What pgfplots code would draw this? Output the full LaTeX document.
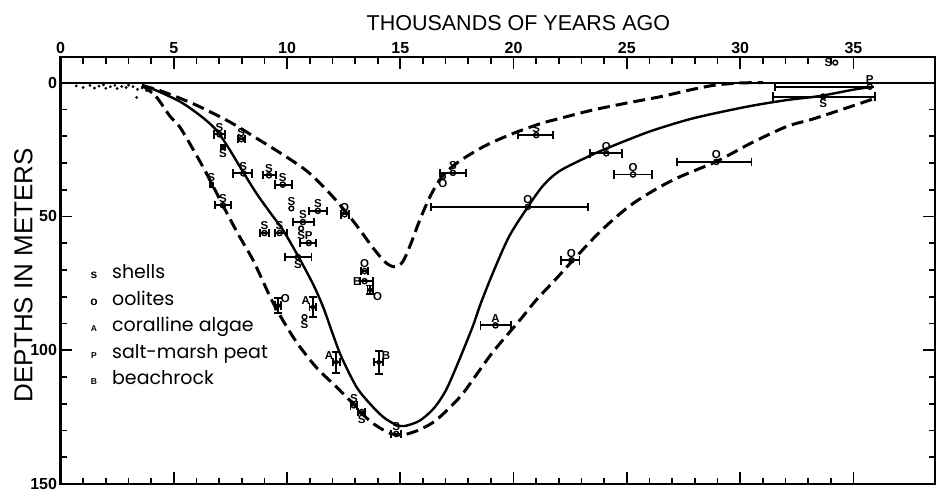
\documentclass[border=0pt]{standalone}
\usepackage{pgfplots}
\pgfplotsset{compat=1.18}
\usepackage{pgfplotstable}
\usepackage{fontspec}
\setmainfont{Liberation Sans}
\newfontfamily\legfont{Poppins}

% points with horizontal error bars only
\pgfplotstableread{
x y exm exp
7.02 19.3 0.25 0.25
7.98 21.1 0.15 0.15
8.07 33.9 0.45 0.38
9.20 34.6 0.28 0.30
9.81 38.1 0.36 0.40
7.17 45.8 0.37 0.37
11.36 47.9 0.40 0.40
12.54 49.2 0.15 0.18
10.70 52.1 0.44 0.50
9.00 56.2 0.21 0.20
9.67 56.2 0.20 0.32
10.96 59.9 0.40 0.33
10.48 65.2 0.58 0.60
13.42 70.4 0.14 0.14
13.42 74.2 0.22 0.37
12.95 120.6 0.15 0.15
13.30 123.1 0.15 0.15
14.82 131.3 0.22 0.22
17.32 33.7 0.58 0.56
21.00 19.6 0.80 0.75
20.63 46.4 4.26 2.65
24.09 26.4 0.72 0.70
25.27 34.3 0.85 0.85
28.95 29.6 1.74 1.55
22.55 66.4 0.45 0.36
19.20 90.7 0.66 0.70
35.72 1.5 4.20 0.00
33.66 5.2 2.20 2.28
}\xbars

% points with horizontal and vertical error bars
\pgfplotstableread{
x y exm exp ey
13.67 77.4 0.12 0.12 1.6
9.60 83.3 0.15 0.15 2.8
11.14 83.9 0.15 0.15 3.7
12.17 104.5 0.15 0.15 4.0
14.05 104.5 0.20 0.20 4.3
}\xybars

% points without error bars
\pgfplotstableread{
x y
10.19 47.0
10.62 54.5
10.77 87.6
16.88 35.2
34.20 -7.5
}\nobars

% filled squares
\pgfplotstableread{
x y
7.17 24.0
6.65 38.1
}\squares

% labels above points
\pgfplotstableread{
x y lbl
7.02 19.3 S
7.98 21.1 S
8.07 33.9 S
9.20 34.6 S
9.81 38.1 S
7.17 45.8 S
11.36 47.9 S
12.54 49.2 O
10.70 52.1 S
9.00 56.2 S
9.67 56.2 S
10.96 59.9 P
13.42 70.4 O
12.95 120.6 S
14.82 131.3 S
17.32 33.7 S
21.00 19.6 S
20.63 46.4 O
24.09 26.4 O
25.27 34.3 O
28.95 29.6 O
22.55 66.4 O
19.20 90.7 A
35.72 1.5 P
10.19 47.0 S
6.65 38.1 S
}\lblS

% labels below points
\pgfplotstableread{
x y lbl
10.48 65.2 S
13.30 123.1 S
33.66 5.2 S
10.62 54.5 S
10.77 87.6 S
16.88 35.2 O
7.17 24.0 S
}\lblN

% labels left of points
\pgfplotstableread{
x y lbl
13.42 74.2 B
34.20 -7.5 S
}\lblE

% labels upper left
\pgfplotstableread{
x y lbl
11.14 83.9 A
12.17 104.5 A
}\lblSE

% labels upper right
\pgfplotstableread{
x y lbl
9.60 83.3 O
14.05 104.5 B
}\lblSW

% labels lower right
\pgfplotstableread{
x y lbl
13.67 77.4 O
}\lblNW

% scattered early points
\pgfplotstableread{
x y
0.7 1.2
1.0 1.8
1.3 1.0
1.5 2.0
1.7 1.3
1.9 0.8
2.0 2.1
2.2 1.5
2.4 1.0
2.5 2.2
2.7 1.4
2.9 1.8
3.0 0.9
3.2 1.5
3.4 2.5
3.36 5.5
3.6 2.0
3.8 3.0
4.0 3.6
}\early

\pgfplotsset{
  lbls/.style={draw=none, mark=none, nodes near coords, point meta=explicit symbolic,
    every node near coord/.append style={anchor=#1, outer sep=2.5pt, inner sep=0.5pt,
     font=\bfseries\fontsize{11.5}{11.5}\selectfont}},
  error bars/ebars/.style={error bar style={line width=1.9pt},
    error mark options={rotate=90, line width=1.9pt, mark size=4.2pt}},
}

\begin{document}
\begin{tikzpicture}
\useasboundingbox (-60.5pt,-7pt) rectangle (876.5pt,484pt);
\begin{axis}[
  at={(0pt,0pt)}, anchor=south west,
  scale only axis, width=874.5pt, height=427pt,
  xmin=0, xmax=38.6, ymin=-9.6, ymax=150, y dir=reverse,
  xtick={0,5,...,35}, minor x tick num=4,
  ytick={0,50,100,150}, minor y tick num=4,
  xticklabel pos=upper,
  tick pos=both, tick align=inside,
  major tick length=12pt, minor tick length=6.5pt,
  axis line style={line width=2.4pt},
  every tick/.style={line width=1.7pt, black},
  ticklabel style={font=\bfseries\fontsize{16}{16}\selectfont},
  /pgf/number format/assume math mode=true,
  clip=false,
]
% present sea level
\addplot[line width=2.2pt] coordinates {(0,0) (38.6,0)};

% upper dashed envelope
\addplot[smooth, line width=3pt, dash pattern=on 12pt off 6pt] coordinates {
(3.6,1.0) (4.4,3.0) (5.3,5.9) (6.2,9.2) (7.5,14.8) (8.7,21.0) (9.8,26.8)
(10.9,33.2) (11.9,41.5) (12.9,51.5) (13.8,61.8) (14.35,67.2) (14.75,68.8)
(15.1,67.0) (15.45,60.5) (15.85,51.5) (16.3,42.8) (16.8,35.6) (17.5,30.0)
(18.65,24.0) (19.85,19.4) (21.15,15.4) (22.2,13.0) (23.5,10.2) (25.0,7.6)
(26.5,5.2) (27.9,2.5) (28.9,0.9) (30.0,0.1) (31.0,0)};

% solid curve
\addplot[smooth, line width=2.4pt] coordinates {
(3.6,1.0) (4.2,2.8) (5.3,7.2) (6.2,12.5) (6.8,17.0) (7.2,21.5) (7.5,25.5)
(8.07,33.5) (8.66,41.5) (9.25,48.5) (9.85,55.5) (10.5,65.0) (11.16,75.5)
(11.6,84) (12.0,93.5) (12.4,102.5) (13.07,113.8) (13.66,120) (14.25,125)
(14.8,127.8) (15.2,128.3) (15.86,126.3) (16.5,121.5) (17.04,114.5)
(17.63,103) (18.2,91) (18.55,82.5) (19.09,71) (19.8,57.5) (20.63,46.4)
(21.3,38.5) (22.03,33.0) (23.37,27.3) (24.1,24.6) (25.0,21.5) (26.16,17.8)
(27.93,13.3) (30.28,9.0) (32.05,6.5) (33.5,5.0) (35.0,2.6) (35.7,1.7)};

% lower dashed envelope
\addplot[smooth, line width=3pt, dash pattern=on 12pt off 6pt] coordinates {
(3.6,1.0) (4.2,5.0) (4.83,12.5) (5.3,17.0) (6.16,29.5) (6.67,37.6)
(7.33,48.5) (7.9,57.5) (8.51,66.5) (9.25,80.0) (9.69,87.0) (10.42,97.0)
(11.3,106.5) (12.19,113.8) (12.92,120.0) (13.66,126.5) (14.4,130.5)
(14.84,131.6) (15.3,131.3) (15.9,129.5) (16.6,126.0) (17.63,117.5)
(18.37,109.0) (19.1,100.5) (20.28,88.7) (21.0,81.2) (21.8,74.0)
(22.63,66.3) (23.9,55.0) (25.28,45.1) (27.0,36.5) (28.96,29.4)
(30.5,22.5) (32.05,16.4) (33.2,13.6) (34.5,10.0) (35.9,6.0)};

% early scattered dots
\addplot[only marks, mark=*, mark size=1.2pt] table[x=x,y=y]{\early};

% data points with horizontal bars
\addplot[only marks, mark=o, mark size=2.6pt,
  mark options={line width=1.4pt, fill=white},
  error bars/.cd, x dir=both, x explicit, ebars]
  table[x=x, y=y, x error plus=exp, x error minus=exm]{\xbars};

% data points with both bars
\addplot[only marks, mark=*, mark size=2.2pt,
  error bars/.cd, x dir=both, x explicit, y dir=both, y explicit, ebars]
  table[x=x, y=y, x error plus=exp, x error minus=exm, y error=ey]{\xybars};

% data points without bars
\addplot[only marks, mark=o, mark size=2.4pt,
  mark options={line width=1.4pt, fill=white}] table[x=x, y=y]{\nobars};

\addplot[only marks, mark=square*, mark size=2.4pt] table[x=x, y=y]{\squares};

% point labels
\addplot[lbls=south] table[x=x, y=y, meta=lbl]{\lblS};
\addplot[lbls=north] table[x=x, y=y, meta=lbl]{\lblN};
\addplot[lbls=east] table[x=x, y=y, meta=lbl]{\lblE};
\addplot[lbls=south east] table[x=x, y=y, meta=lbl]{\lblSE};
\addplot[lbls=south west] table[x=x, y=y, meta=lbl]{\lblSW};
\addplot[lbls=north west] table[x=x, y=y, meta=lbl]{\lblNW};

% legend
\begin{scope}[every node/.style={inner sep=0pt}]
\node[anchor=base west, font=\legfont\fontsize{19}{19}\selectfont] at (axis cs:2.27,73.3) {shells};
\node[anchor=base west, font=\legfont\fontsize{19}{19}\selectfont] at (axis cs:2.27,83.2) {oolites};
\node[anchor=base west, font=\legfont\fontsize{19}{19}\selectfont] at (axis cs:2.27,93.1) {coralline algae};
\node[anchor=base west, font=\legfont\fontsize{19}{19}\selectfont] at (axis cs:2.27,103.0) {salt-marsh peat};
\node[anchor=base west, font=\legfont\fontsize{19}{19}\selectfont] at (axis cs:2.27,112.9) {beachrock};
\node[anchor=base, font=\bfseries\fontsize{12}{12}\selectfont] at (axis cs:1.48,73.3) {s};
\node[anchor=base, font=\bfseries\fontsize{12}{12}\selectfont] at (axis cs:1.48,83.2) {o};
\node[anchor=base, font=\bfseries\fontsize{8.5}{8.5}\selectfont] at (axis cs:1.48,93.1) {A};
\node[anchor=base, font=\bfseries\fontsize{8.5}{8.5}\selectfont] at (axis cs:1.48,103.0) {P};
\node[anchor=base, font=\bfseries\fontsize{8.5}{8.5}\selectfont] at (axis cs:1.48,112.9) {B};
\end{scope}

% axis titles
\node[font=\fontsize{21.5}{21.5}\selectfont] at (axis cs:20.21,-22.3) {THOUSANDS OF YEARS AGO};
\node[rotate=90, font=\fontsize{26}{26}\selectfont] at (axis cs:-1.64,71.9) {DEPTHS IN METERS};
\end{axis}
\end{tikzpicture}
\end{document}
